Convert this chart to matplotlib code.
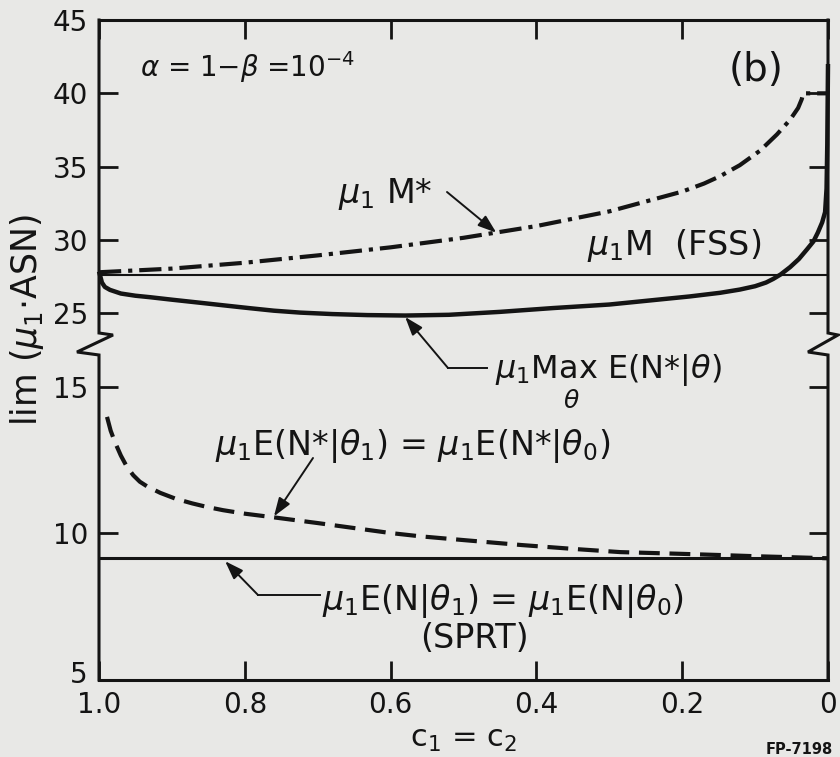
import numpy as np
import matplotlib
matplotlib.use("Agg")
import matplotlib.pyplot as plt
from matplotlib.transforms import ScaledTranslation

plt.rcParams["font.family"] = "DejaVu Sans"
plt.rcParams["mathtext.fontset"] = "dejavusans"
plt.rcParams["lines.scale_dashes"] = False

PAPER = "#e8e8e6"
INK = "#141414"

# c1 = c2 on the x axis, which runs from 1.0 down to 0
mstar_c = [1.0, 0.9, 0.8, 0.7, 0.6, 0.5, 0.4, 0.3, 0.2, 0.17, 0.148, 0.121, 0.093, 0.07, 0.052,
           0.041, 0.036, 0.034, 0.0]
mstar_val = [27.8, 28.05, 28.45, 28.95, 29.5, 30.15, 30.95, 31.95, 33.3, 33.85, 34.35, 35.1, 36.1, 37.2,
             38.2, 39.0, 39.6, 40.0, 40.0]

maxasn_c = [1.0, 0.9986, 0.996, 0.992, 0.985, 0.97, 0.95, 0.93, 0.9, 0.861, 0.83, 0.793, 0.76,
            0.724, 0.68, 0.632, 0.58, 0.52, 0.45, 0.377, 0.3, 0.24, 0.19, 0.148, 0.121, 0.1,
            0.085, 0.075, 0.065, 0.052, 0.04, 0.029, 0.02, 0.014, 0.008, 0.004, 0.002, 0.001, 0.0]
maxasn_val = [27.85, 27.6, 27.1, 26.8, 26.6, 26.35, 26.2, 26.1, 25.93, 25.72, 25.55, 25.35, 25.18,
              25.05, 24.95, 24.88, 24.85, 24.9, 25.1, 25.36, 25.6, 25.9, 26.15, 26.4, 26.62, 26.85,
              27.1, 27.35, 27.65, 28.15, 28.7, 29.35, 29.9, 30.5, 31.2, 31.9, 33.5, 36.5, 42.0]

enstar_c = [0.989, 0.984, 0.978, 0.970, 0.962, 0.953, 0.944, 0.934, 0.916, 0.895, 0.872, 0.852, 0.83,
            0.8, 0.765, 0.734, 0.70, 0.65, 0.60, 0.56, 0.50, 0.42, 0.35, 0.285, 0.2, 0.148, 0.1,
            0.056, 0.0]
enstar_val = [13.97, 13.5, 13.1, 12.65, 12.28, 11.98, 11.76, 11.6, 11.38, 11.18, 11.02, 10.9, 10.79,
              10.67, 10.56, 10.46, 10.35, 10.18, 10.01, 9.9, 9.77, 9.6, 9.47, 9.36, 9.3, 9.26, 9.22,
              9.19, 9.15]

fss_c = [1.0, 0.0]
fss_val = [27.6, 27.6]

sprt_c = [1.0, 0.0]
sprt_val = [9.15, 9.15]

x_ticks = [1.0, 0.8, 0.6, 0.4, 0.2, 0.0]
x_ticklabels = ["1.0", "0.8", "0.6", "0.4", "0.2", "0"]
y_ticks = [5, 10, 15, 25, 30, 35, 40, 45]

# broken y axis: 5..16.4 at double scale, 23..45 at unit scale
LOW_TOP, HIGH_BOTTOM = 16.4, 23.0
F_LOW_TOP = 2.0 * (LOW_TOP - 5.0)


def to_axis(y):
    y = np.asarray(y, dtype=float)
    mid = F_LOW_TOP + (y - LOW_TOP) * (HIGH_BOTTOM - F_LOW_TOP) / (HIGH_BOTTOM - LOW_TOP)
    return np.where(y <= LOW_TOP, 2.0 * (y - 5.0), np.where(y >= HIGH_BOTTOM, y, mid))


def from_axis(f):
    f = np.asarray(f, dtype=float)
    mid = LOW_TOP + (f - F_LOW_TOP) * (HIGH_BOTTOM - LOW_TOP) / (HIGH_BOTTOM - F_LOW_TOP)
    return np.where(f <= F_LOW_TOP, f / 2.0 + 5.0, np.where(f >= HIGH_BOTTOM, f, mid))


W, H = 840, 757
L, R, T, B = 99, 828, 20, 680

fig = plt.figure(figsize=(W / 100, H / 100), dpi=100, facecolor=PAPER)
ax = fig.add_axes([L / W, 1 - B / H, (R - L) / W, (B - T) / H])
ax.set_facecolor(PAPER)
ax.set_yscale("function", functions=(to_axis, from_axis))
ax.set_xlim(1.0, 0.0)
ax.set_ylim(5, 45)


def frac(px, py):
    return ((px - L) / (R - L), (B - py) / (B - T))


# curves
ax.plot(fss_c, fss_val, color=INK, lw=1.5, zorder=3)
ax.plot(sprt_c, sprt_val, color=INK, lw=2.2, zorder=3)
ax.plot(mstar_c, mstar_val, color=INK, lw=3.0, dashes=(16, 5, 3, 5),
        dash_capstyle="butt", zorder=4)
ax.plot(enstar_c, enstar_val, color=INK, lw=3.0, dashes=(15, 7),
        dash_capstyle="butt", zorder=4)
ax.plot(maxasn_c, maxasn_val, color=INK, lw=3.2, zorder=5, clip_on=False,
        solid_capstyle="butt", solid_joinstyle="round")

# axes frame, with the break drawn into both side spines
for side in ("left", "right"):
    ax.spines[side].set_visible(False)
for side in ("top", "bottom"):
    ax.spines[side].set_linewidth(2.2)
    ax.spines[side].set_color(INK)

y_hi, y_hi2, y_lo2, y_lo = frac(0, 333)[1], frac(0, 335)[1], frac(0, 352)[1], frac(0, 355)[1]
for x0, out, back in ((0.0, 14, -22), (1.0, 10, -20)):
    xs = [x0, x0, x0 + out / (R - L), x0 + back / (R - L), x0, x0]
    ys = [1.0, y_hi, y_hi2, y_lo2, y_lo, 0.0]
    ax.plot(xs, ys, color=INK, lw=2.2, transform=ax.transAxes, clip_on=False,
            solid_joinstyle="miter", zorder=6)

ax.set_xticks(x_ticks)
ax.set_xticklabels(x_ticklabels)
ax.set_yticks(y_ticks)
ax.set_yticklabels([str(v) for v in y_ticks])
ax.minorticks_off()
ax.tick_params(direction="in", length=14, width=2, top=True, right=True,
               labelsize=20, colors=INK, pad=8)
# lift the "5" off the "1.0" in the corner
lbl5 = ax.get_yticklabels()[0]
lbl5.set_transform(lbl5.get_transform() + ScaledTranslation(0, 6 / 72, fig.dpi_scale_trans))

ax.set_xlabel(r"c$_1$ = c$_2$", fontsize=22, color=INK, labelpad=4)
ax.set_ylabel(r"lim ($\mu_1$$\cdot$ASN)", fontsize=25, color=INK)
ax.yaxis.set_label_coords(frac(46, 0)[0], frac(0, 320)[1])

# annotations
arrow = dict(arrowstyle="-|>,head_length=0.8,head_width=0.28", color=INK, lw=1.4,
             shrinkA=0, shrinkB=0, mutation_scale=14)
text_kw = dict(transform=ax.transAxes, color=INK, fontsize=24, va="baseline", ha="left")

ax.text(*frac(140, 77), r"$\alpha$ = 1$-\beta$ =10$^{-4}$", transform=ax.transAxes,
        color=INK, fontsize=20, va="baseline", ha="left")
ax.text(*frac(756, 70), "(b)", transform=ax.transAxes, color=INK, fontsize=28,
        ha="center", va="center")

ax.text(*frac(338, 203), r"$\mu_1$ M*", **text_kw)
ax.annotate("", xy=(0.455, 30.5), xytext=frac(447, 192), textcoords="axes fraction",
            arrowprops=arrow, zorder=6)

ax.text(*frac(587, 255), r"$\mu_1$M  (FSS)", **text_kw)

ax.text(*frac(495, 378), r"$\mu_1$Max E(N*|$\theta$)", transform=ax.transAxes, color=INK,
        fontsize=23, va="baseline", ha="left")
ax.text(*frac(571, 401), r"$\theta$", transform=ax.transAxes, color=INK, fontsize=18,
        ha="center", va="center")
ax.plot(*zip(frac(448, 368), frac(487, 368)), color=INK, lw=1.4, transform=ax.transAxes)
ax.annotate("", xy=(0.58, 24.75), xytext=frac(448, 368), textcoords="axes fraction",
            arrowprops=arrow, zorder=6)

ax.text(*frac(215, 455), r"$\mu_1$E(N*|$\theta_1$) = $\mu_1$E(N*|$\theta_0$)", **text_kw)
ax.annotate("", xy=(0.76, 10.58), xytext=frac(313, 458), textcoords="axes fraction",
            arrowprops=arrow, zorder=6)

ax.text(*frac(322, 610), r"$\mu_1$E(N|$\theta_1$) = $\mu_1$E(N|$\theta_0$)", **text_kw)
ax.text(*frac(420, 648), "(SPRT)", **text_kw)
ax.plot(*zip(frac(258, 595), frac(320, 595)), color=INK, lw=1.4, transform=ax.transAxes)
ax.annotate("", xy=(0.827, 9.05), xytext=frac(258, 595), textcoords="axes fraction",
            arrowprops=arrow, zorder=6)

fig.text(766 / W, 1 - 749 / H, "FP-7198", fontsize=10.5, fontweight="bold", color=INK,
         ha="left", va="center")

fig.savefig("out.png", dpi=100, facecolor=PAPER)
